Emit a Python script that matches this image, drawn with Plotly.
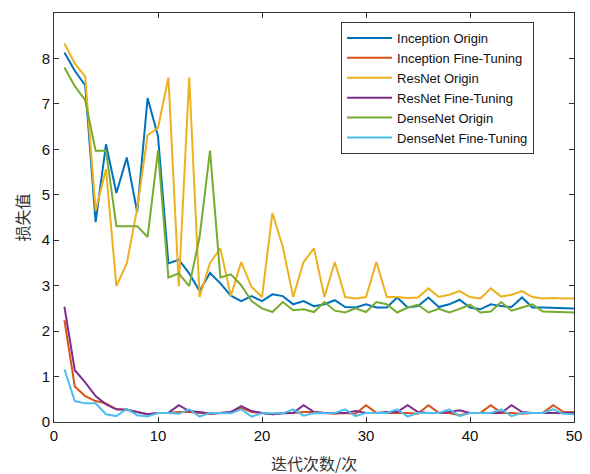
import plotly.graph_objects as go

epochs = list(range(1, 51))

inception_origin = [8.13, 7.73, 7.41, 4.40, 6.11, 5.04, 5.82, 4.62, 7.13, 6.29,
                    3.49, 3.57, 3.27, 2.88, 3.28, 3.05, 2.78, 2.66, 2.77, 2.66,
                    2.81, 2.77, 2.59, 2.66, 2.55, 2.59, 2.68, 2.53, 2.52, 2.59,
                    2.52, 2.52, 2.74, 2.52, 2.55, 2.74, 2.53, 2.59, 2.69, 2.52,
                    2.48, 2.59, 2.55, 2.53, 2.74, 2.52, 2.52, 2.51, 2.50, 2.50]
inception_ft = [2.24, 0.78, 0.57, 0.46, 0.41, 0.28, 0.27, 0.22, 0.17, 0.20,
                0.20, 0.22, 0.22, 0.20, 0.18, 0.20, 0.22, 0.31, 0.22, 0.20,
                0.17, 0.20, 0.20, 0.22, 0.22, 0.20, 0.18, 0.20, 0.18, 0.37,
                0.20, 0.20, 0.20, 0.20, 0.18, 0.37, 0.20, 0.20, 0.15, 0.20,
                0.20, 0.37, 0.20, 0.20, 0.18, 0.20, 0.20, 0.37, 0.22, 0.22]
resnet_origin = [8.33, 7.89, 7.60, 4.65, 5.56, 2.99, 3.49, 4.70, 6.31, 6.47,
                 7.58, 2.99, 7.58, 2.75, 3.50, 3.82, 2.77, 3.52, 2.97, 2.75,
                 4.60, 3.85, 2.75, 3.52, 3.82, 2.75, 3.52, 2.75, 2.72, 2.75,
                 3.52, 2.75, 2.75, 2.73, 2.74, 2.94, 2.75, 2.80, 2.88, 2.75,
                 2.72, 2.94, 2.76, 2.80, 2.88, 2.75, 2.72, 2.73, 2.72, 2.72]
resnet_ft = [2.54, 1.14, 0.87, 0.57, 0.39, 0.28, 0.27, 0.22, 0.17, 0.20,
             0.20, 0.37, 0.24, 0.22, 0.18, 0.20, 0.22, 0.35, 0.24, 0.20,
             0.17, 0.19, 0.20, 0.37, 0.22, 0.20, 0.20, 0.20, 0.24, 0.20,
             0.20, 0.22, 0.22, 0.37, 0.22, 0.20, 0.20, 0.22, 0.26, 0.20,
             0.20, 0.20, 0.20, 0.37, 0.22, 0.20, 0.20, 0.20, 0.20, 0.20]
densenet_origin = [7.80, 7.39, 7.08, 5.97, 5.97, 4.31, 4.31, 4.31, 4.07, 5.97,
                   3.18, 3.27, 2.99, 4.07, 5.97, 3.18, 3.25, 3.01, 2.66, 2.50,
                   2.42, 2.64, 2.46, 2.48, 2.42, 2.64, 2.45, 2.41, 2.50, 2.42,
                   2.64, 2.59, 2.41, 2.52, 2.58, 2.41, 2.49, 2.41, 2.49, 2.58,
                   2.41, 2.43, 2.64, 2.45, 2.52, 2.59, 2.43, 2.42, 2.41, 2.41]
densenet_ft = [1.16, 0.46, 0.41, 0.41, 0.17, 0.13, 0.29, 0.15, 0.12, 0.20,
               0.20, 0.18, 0.28, 0.12, 0.20, 0.20, 0.19, 0.28, 0.12, 0.19,
               0.19, 0.19, 0.28, 0.14, 0.20, 0.19, 0.20, 0.28, 0.13, 0.20,
               0.20, 0.20, 0.28, 0.12, 0.20, 0.20, 0.20, 0.28, 0.13, 0.20,
               0.20, 0.20, 0.28, 0.13, 0.20, 0.20, 0.20, 0.28, 0.18, 0.17]

series_names = ["Inception Origin", "Inception Fine-Tuning", "ResNet Origin",
                "ResNet Fine-Tuning", "DenseNet Origin", "DenseNet Fine-Tuning"]
series_values = [inception_origin, inception_ft, resnet_origin,
                 resnet_ft, densenet_origin, densenet_ft]
colors = ["#0072BD", "#D95319", "#EDB120", "#7E2F8E", "#77AC30", "#4DBEEE"]

x_ticks = [0, 10, 20, 30, 40, 50]
y_ticks = [0, 1, 2, 3, 4, 5, 6, 7, 8, 9]
x_title = "迭代次数/次"
y_title = "损失值"

fig = go.Figure()
for name, vals, c in zip(series_names, series_values, colors):
    fig.add_trace(go.Scatter(x=epochs, y=vals, mode="lines", name=name,
                             line=dict(color=c, width=2)))

axis_common = dict(showline=True, linecolor="#333333", linewidth=1, mirror="ticks",
                   ticks="inside", ticklen=5, tickcolor="#333333", showgrid=False,
                   zeroline=False, automargin=False,
                   tickfont=dict(family="Liberation Sans, Arial", size=15, color="#111111"))

title_font = dict(family="Noto Sans CJK SC", size=16, color="#333333")

# the page body has an 8px default margin, so the figure is sized to fit the window
fig.update_layout(
    width=582, height=466,
    margin=dict(l=46, r=16, t=5, b=52),
    paper_bgcolor="white", plot_bgcolor="white",
    xaxis=dict(range=[0, 50], tickvals=x_ticks, **axis_common),
    yaxis=dict(range=[0, 9], tickvals=y_ticks, **axis_common,
               title=dict(text=y_title, font=title_font, standoff=8)),
    legend=dict(x=0.552, y=0.978, xanchor="left", yanchor="top",
                bgcolor="white", bordercolor="#333333", borderwidth=1,
                font=dict(family="Liberation Sans, Arial", size=13, color="#111111"),
                tracegroupgap=0, itemwidth=45),
    showlegend=True,
    annotations=[
        dict(text=x_title, xref="paper", yref="paper", x=0.5, y=-0.100,
             xanchor="center", yanchor="middle", showarrow=False, font=title_font),
    ],
)

fig.write_html("out.html")
